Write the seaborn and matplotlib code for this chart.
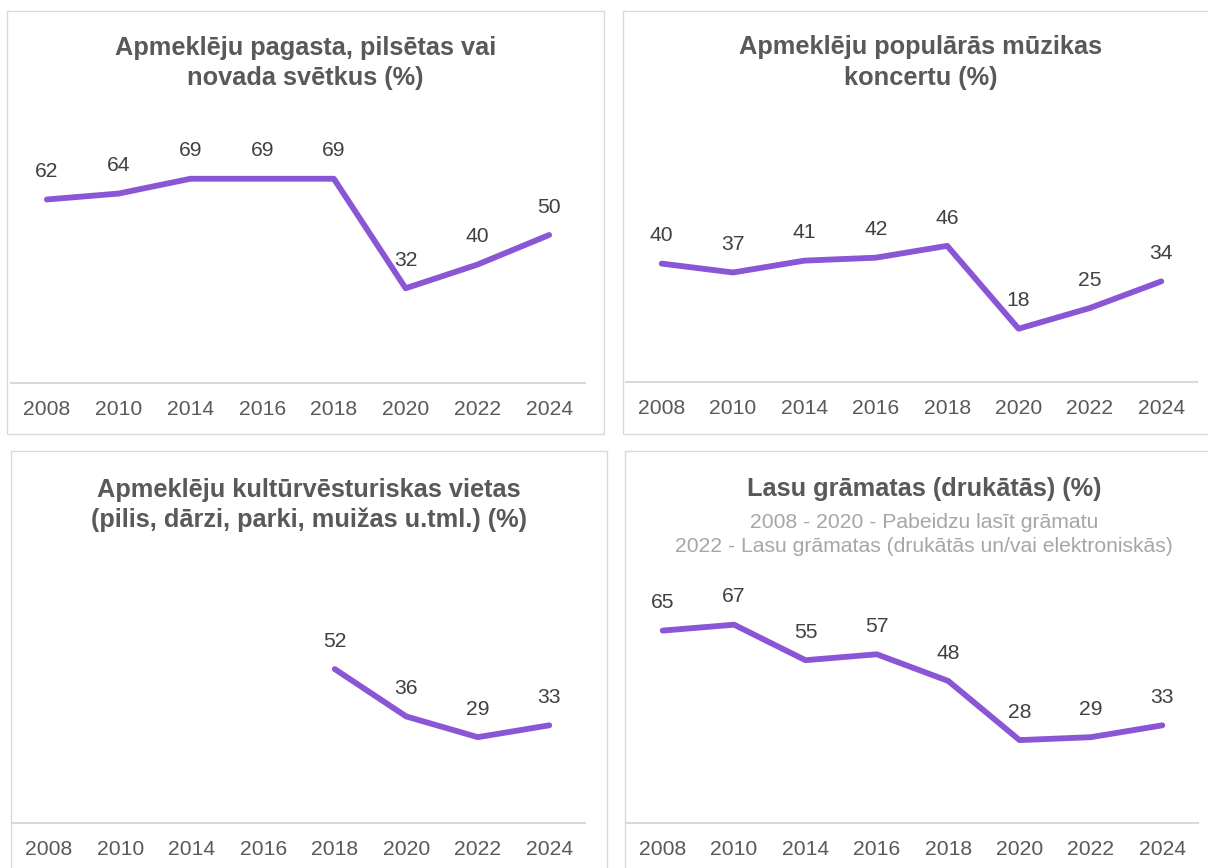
import numpy as np
import pandas as pd
import matplotlib
matplotlib.use("Agg")
import matplotlib.pyplot as plt
from matplotlib.patches import Rectangle
import seaborn as sns

# Survey years and shares of respondents (%)
years = ["2008", "2010", "2014", "2016", "2018", "2020", "2022", "2024"]
festivals = [62, 64, 69, 69, 69, 32, 40, 50]
concerts = [40, 37, 41, 42, 46, 18, 25, 34]
heritage = [np.nan, np.nan, np.nan, np.nan, 52, 36, 29, 33]
books = [65, 67, 55, 57, 48, 28, 29, 33]

titles = [
    "Apmeklēju pagasta, pilsētas vai\nnovada svētkus (%)",
    "Apmeklēju populārās mūzikas\nkoncertu (%)",
    "Apmeklēju kultūrvēsturiskas vietas\n(pilis, dārzi, parki, muižas u.tml.) (%)",
    "Lasu grāmatas (drukātās) (%)",
]
books_note = ("2008 - 2020 - Pabeidzu lasīt grāmatu\n"
              "2022 - Lasu grāmatas (drukātās un/vai elektroniskās)")

sns.set_theme(style="white")
plt.rcParams["font.family"] = ["Liberation Sans", "DejaVu Sans"]

W, H = 1208, 868
fig = plt.figure(figsize=(W / 100, H / 100), dpi=100)
fig.patch.set_facecolor("white")

LINE = "#8B56D6"
GRID = "#D9D9D9"
TITLE_C = "#595959"
TICK_C = "#595959"
LABEL_C = "#404040"
NOTE_C = "#A6A6A6"


def frac_box(x0, y0, x1, y1):
    return [x0 / W, 1 - y1 / H, (x1 - x0) / W, (y1 - y0) / H]


def panel_frame(x0, y0, x1, y1):
    fig.add_artist(Rectangle((x0 / W, 1 - y1 / H), (x1 - x0) / W, (y1 - y0) / H,
                             transform=fig.transFigure, fill=False,
                             edgecolor=GRID, linewidth=1.0, clip_on=False))


panels = [
    dict(values=festivals, frame=(7.5, 11, 604, 433.5), plot=(11, 87, 585, 383),
         title=titles[0], tx=305.5, ty=63),
    dict(values=concerts, frame=(623, 11, 1240, 434), plot=(626, 86, 1197, 382),
         title=titles[1], tx=921, ty=62.5),
    dict(values=heritage, frame=(11, 451, 607, 890), plot=(13, 527, 585, 823),
         title=titles[2], tx=309, ty=505),
    dict(values=books, frame=(625, 451, 1240, 890), plot=(627, 527, 1198, 823),
         title=titles[3], tx=924, ty=489),
]

for p in panels:
    panel_frame(*p["frame"])
    ax = fig.add_axes(frac_box(*p["plot"]))
    ax.set_facecolor("none")
    df = pd.DataFrame({"pos": np.arange(len(years)), "value": p["values"]}).dropna()
    sns.lineplot(data=df, x="pos", y="value", ax=ax, color=LINE, linewidth=4.2,
                 solid_capstyle="round", solid_joinstyle="round")
    for xi, v in zip(df["pos"], df["value"]):
        ax.annotate(f"{v:.0f}", (xi, v), xytext=(0, 20), textcoords="offset points",
                    ha="center", va="center", fontsize=15.2, color=LABEL_C)
    ax.set_xlim(-0.5, len(years) - 0.5)
    ax.set_ylim(0, 100)
    ax.set_xticks(np.arange(len(years)))
    ax.set_xticklabels(years)
    ax.set_yticks([])
    ax.set_xlabel("")
    ax.set_ylabel("")
    ax.tick_params(axis="x", length=0, pad=12, labelsize=15.2, labelcolor=TICK_C)
    for side in ("left", "right", "top"):
        ax.spines[side].set_visible(False)
    ax.spines["bottom"].set_color(GRID)
    ax.spines["bottom"].set_linewidth(1.5)

    fig.text(p["tx"] / W, 1 - p["ty"] / H, p["title"], ha="center", va="center",
             fontsize=18.3, fontweight="bold", color=TITLE_C, linespacing=1.32)

fig.text(924 / W, 1 - 534.5 / H, books_note, ha="center", va="center",
         fontsize=15.2, color=NOTE_C, linespacing=1.32)

fig.savefig("out.png", dpi=100, facecolor="white")
